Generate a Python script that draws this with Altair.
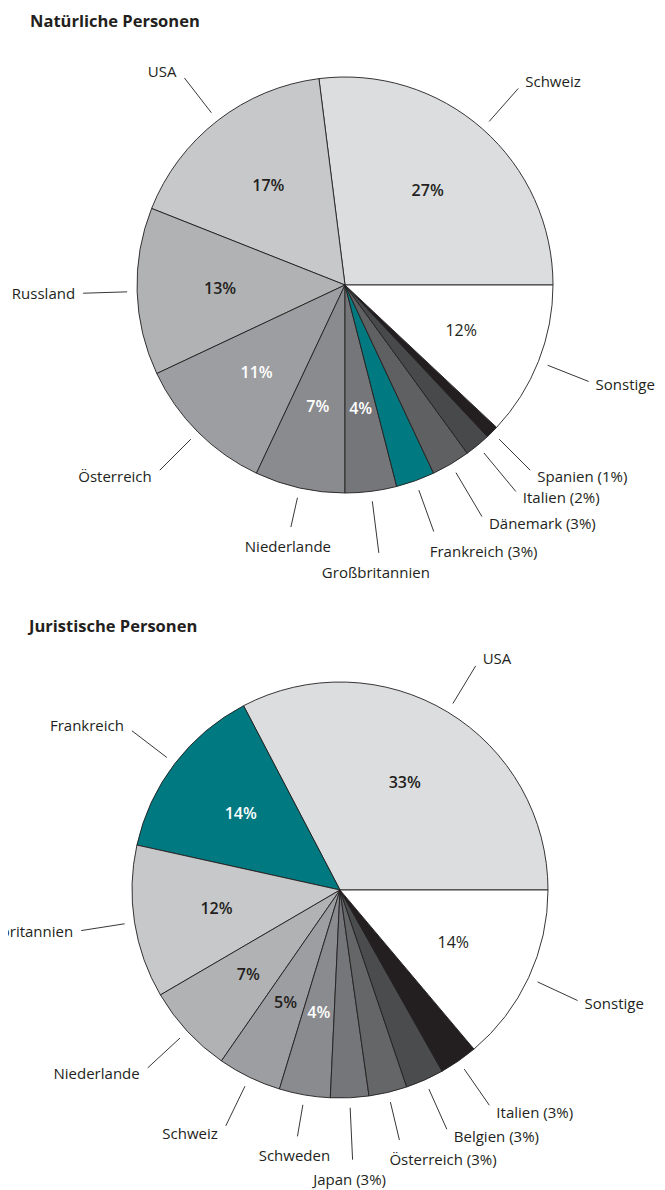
import math
import altair as alt
import pandas as pd

# ---------------- data ----------------
titles = ["Natürliche Personen", "Juristische Personen"]

np_names = ["Schweiz", "USA", "Russland", "Österreich", "Niederlande", "Großbritannien",
            "Frankreich", "Dänemark", "Italien", "Spanien", "Sonstige"]
np_shares = [27, 17, 13, 11, 7, 4, 3, 3, 2, 1, 12]

jp_names = ["USA", "Frankreich", "Großbritannien", "Niederlande", "Schweiz", "Schweden",
            "Japan", "Österreich", "Belgien", "Italien", "Sonstige"]
jp_shares = [33, 14, 12, 7, 5, 4, 3, 3, 3, 3, 14]

# ---------------- styles ----------------
DARK = "#231f20"
WHITE = "#ffffff"
np_colors = ["#dcdddf", "#c7c8ca", "#b1b2b4", "#9d9ea1", "#8a8b8e", "#75767a",
             "#007a80", "#5f6062", "#48494b", "#231f20", "#ffffff"]
np_tcolors = [DARK, DARK, DARK, WHITE, WHITE, WHITE, DARK, DARK, DARK, DARK, DARK]
jp_colors = ["#dcdddf", "#007a80", "#c7c8ca", "#b1b2b4", "#9d9ea1", "#8a8b8e",
             "#75767a", "#656668", "#4b4c4e", "#231f20", "#ffffff"]
jp_tcolors = [DARK, WHITE, DARK, DARK, DARK, WHITE, DARK, DARK, DARK, DARK, DARK]

FONT = "Open Sans"
W, H = 649, 1182
R = 208
centers = [(337, 277), (332, 882)]
title_pos = [(22, 14), (21, 619)]
# leader-line end radius tweaks (layout only)
leader_end = [
    {"Niederlande": 248, "Großbritannien": 270, "Dänemark": 269, "Italien": 268},
    {"Schweden": 250, "Japan": 270, "Österreich": 257},
]
label_shift = [{}, {"Österreich": -6}]


def build(names, shares, colors, tcolors, center, lend, lshift):
    cx, cy = center
    total = float(sum(shares))
    cum = 0.0
    arcs, rules, labels, pcts = [], [], [], []
    for i, (n, s) in enumerate(zip(names, shares)):
        start = cum / total * 360.0
        cum += s
        end = cum / total * 360.0
        mid = math.radians((start + end) / 2.0)
        c, sn = math.cos(mid), math.sin(mid)
        arcs.append({"idx": i, "name": n, "share": s, "fill": colors[i]})
        r0 = R + 10
        r1 = lend.get(n, 262)
        x0, y0 = cx + r0 * c, cy - r0 * sn
        x1, y1 = cx + r1 * c, cy - r1 * sn
        rules.append({"x": x0, "y": y0, "x2": x1, "y2": y1})
        if sn < -0.93:
            if -0.25 < c < 0.2:
                align, lx = "center", x1 - 3
            else:
                align, lx = "left", x1 - 4
            ly = y1 + 20
        else:
            if c >= 0:
                align, lx = "left", x1 + 7
            else:
                align, lx = "right", x1 - 8
            ly = y1 - sn * 8 if sn > 0 else y1 - sn * 9
        lx += lshift.get(n, 0)
        txt = f"{n} ({s}%)" if s <= 3 else n
        labels.append({"lx": lx, "ly": ly, "label": txt, "align": align})
        if s > 3:
            rp = 125
            pcts.append({"px": cx + rp * c, "py": cy - rp * sn, "pct": f"{s}%",
                         "tc": tcolors[i], "w": "normal" if n == "Sonstige" else "bold"})
    return (pd.DataFrame(arcs), pd.DataFrame(rules), pd.DataFrame(labels), pd.DataFrame(pcts))


xs = alt.Scale(domain=[0, W], nice=False, zero=False)
ys = alt.Scale(domain=[0, H], nice=False, zero=False, reverse=True)

layers = []
all_rules, all_labels, all_pcts = [], [], []
for k, (names, shares, colors, tcolors) in enumerate([
        (np_names, np_shares, np_colors, np_tcolors),
        (jp_names, jp_shares, jp_colors, jp_tcolors)]):
    arcs, rules, labels, pcts = build(names, shares, colors, tcolors, centers[k],
                                      leader_end[k], label_shift[k])
    cx, cy = centers[k]
    layers.append(
        alt.Chart(arcs).mark_arc(radius=R, stroke=DARK, strokeWidth=0.9).encode(
            theta=alt.Theta("share:Q", stack=True,
                            scale=alt.Scale(range=[math.pi / 2, math.pi / 2 + 2 * math.pi])),
            order=alt.Order("idx:Q", sort="descending"),
            color=alt.Color("fill:N", scale=None),
            x=alt.value(cx), y=alt.value(cy),
        )
    )
    all_rules.append(rules)
    all_labels.append(labels)
    all_pcts.append(pcts)

rules_df = pd.concat(all_rules, ignore_index=True)
labels_df = pd.concat(all_labels, ignore_index=True)
pcts_df = pd.concat(all_pcts, ignore_index=True)

layers.append(
    alt.Chart(rules_df).mark_rule(color=DARK, strokeWidth=0.9).encode(
        x=alt.X("x:Q", scale=xs, axis=None), y=alt.Y("y:Q", scale=ys, axis=None),
        x2="x2:Q", y2="y2:Q",
    )
)
for al in ["left", "right", "center"]:
    sub = labels_df[labels_df["align"] == al]
    if len(sub):
        layers.append(
            alt.Chart(sub).mark_text(font=FONT, fontSize=15, align=al, baseline="middle",
                                     color=DARK).encode(
                x=alt.X("lx:Q", scale=xs, axis=None), y=alt.Y("ly:Q", scale=ys, axis=None),
                text="label:N",
            )
        )
for wt in ["bold", "normal"]:
    sub = pcts_df[pcts_df["w"] == wt]
    layers.append(
        alt.Chart(sub).mark_text(font=FONT, fontSize=16, align="center", baseline="middle",
                                 fontWeight=600 if wt == "bold" else 400).encode(
            x=alt.X("px:Q", scale=xs, axis=None), y=alt.Y("py:Q", scale=ys, axis=None),
            text="pct:N", color=alt.Color("tc:N", scale=None),
        )
    )

title_df = pd.DataFrame({"t": titles, "tx": [p[0] for p in title_pos], "ty": [p[1] for p in title_pos]})
layers.append(
    alt.Chart(title_df).mark_text(font=FONT, fontSize=16.5, fontWeight="bold", align="left",
                                  baseline="middle", color=DARK).encode(
        x=alt.X("tx:Q", scale=xs, axis=None), y=alt.Y("ty:Q", scale=ys, axis=None), text="t:N",
    )
)

chart = alt.layer(*layers).properties(
    width=W, height=H, padding=0,
    autosize=alt.AutoSizeParams(type="none"),
).resolve_scale(theta="independent").configure_view(stroke=None)

chart.save("out.html", embed_options={"renderer": "svg", "actions": False})
